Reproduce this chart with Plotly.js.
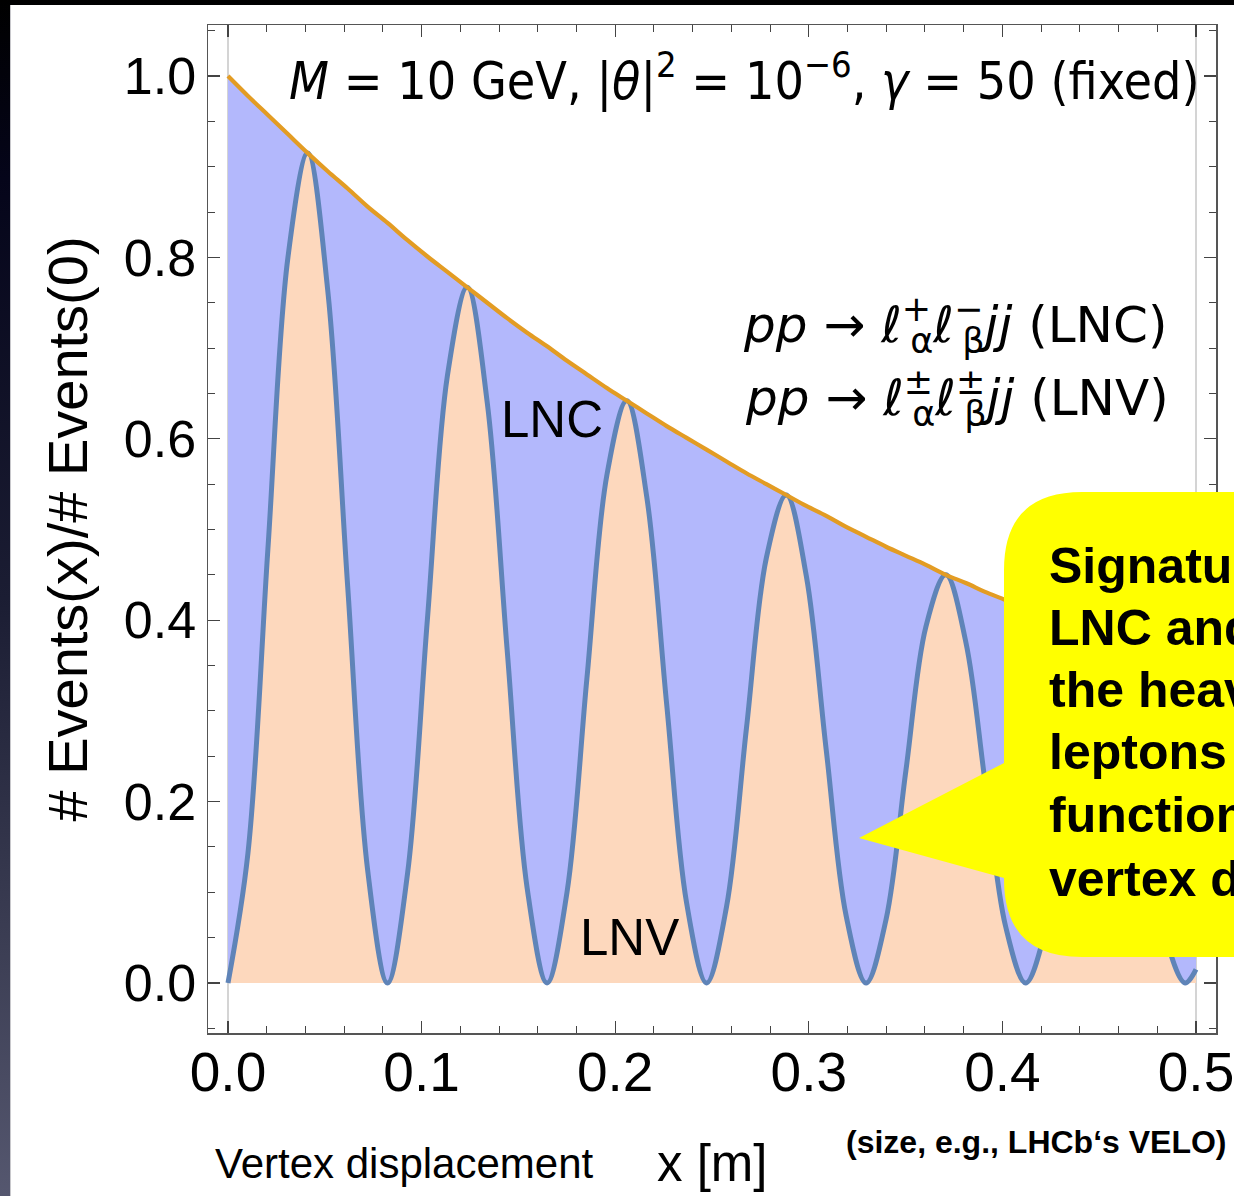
<!DOCTYPE html>
<html>
<head>
<meta charset="utf-8">
<script src="https://cdn.plot.ly/plotly-3.0.1.min.js"></script>
<style>
  html, body { margin: 0; padding: 0; }
  body {
    width: 1234px; height: 1196px; overflow: hidden;
    background: linear-gradient(to bottom, #000000 0%, #05051a 15%, #1b1d33 50%, #3d3f55 80%, #55576f 100%);
    position: relative;
  }
  #chart { position: absolute; left: 10px; top: 5px; width: 1224px; height: 1191px; background: #fff; border-left: 1px solid #c8c8cc; box-sizing: border-box; }
</style>
</head>
<body>
<div id="chart"></div>
<script>
// Vertex displacement x [m]
const displacement = [0, 0.0103, 0.0206, 0.0309, 0.0412, 0.0515, 0.0618, 0.0721, 0.0824, 0.0927,
  0.1030, 0.1133, 0.1236, 0.1339, 0.1442, 0.1545, 0.1648, 0.1751, 0.1854, 0.1957,
  0.2060, 0.2163, 0.2266, 0.2369, 0.2472, 0.2575, 0.2678, 0.2781, 0.2884, 0.2987,
  0.3090, 0.3193, 0.3296, 0.3399, 0.3502, 0.3605, 0.3708, 0.3811, 0.3914, 0.4017,
  0.4120, 0.4223, 0.4326, 0.4429, 0.4532, 0.4635, 0.4738, 0.4841, 0.4944, 0.5];
// Total (LNC + LNV) events ratio: upper (orange) curve
const totalEvents = [1.000, 0.978, 0.957, 0.936, 0.915, 0.895, 0.876, 0.856, 0.838, 0.819,
  0.801, 0.784, 0.767, 0.750, 0.733, 0.717, 0.702, 0.686, 0.671, 0.656,
  0.642, 0.628, 0.614, 0.601, 0.588, 0.575, 0.562, 0.550, 0.538, 0.526,
  0.515, 0.503, 0.492, 0.481, 0.471, 0.461, 0.450, 0.441, 0.431, 0.422,
  0.412, 0.403, 0.394, 0.386, 0.377, 0.369, 0.361, 0.353, 0.345, 0.341];
// LNV events ratio: oscillating (blue) curve
const lnvEvents = [0, 0.143, 0.478, 0.799, 0.915, 0.764, 0.438, 0.125, 0, 0.120,
  0.401, 0.669, 0.767, 0.640, 0.367, 0.105, 0, 0.100, 0.336, 0.560,
  0.642, 0.536, 0.307, 0.088, 0, 0.084, 0.281, 0.469, 0.538, 0.449,
  0.257, 0.074, 0, 0.070, 0.235, 0.393, 0.450, 0.376, 0.216, 0.062,
  0, 0.059, 0.197, 0.329, 0.377, 0.315, 0.181, 0.052, 0, 0.015];
const xTickLabels = ["0.0", "0.1", "0.2", "0.3", "0.4", "0.5"];
const xTickValues = [0, 0.1, 0.2, 0.3, 0.4, 0.5];
const yTickLabels = ["0.0", "0.2", "0.4", "0.6", "0.8", "1.0"];
const yTickValues = [0, 0.2, 0.4, 0.6, 0.8, 1.0];
const gridX = [0, 0.5];
const calloutLines = ["Signatures of", "LNC and LNV", "the heavy", "leptons", "function of", "vertex displacement"];

// pixel (reference image) -> paper helpers; plot frame spans x 207..1215, y 25..1033
const FL = 207, FR = 1215, FT = 25, FB = 1033;
const px = X => (X - FL) / (FR - FL);
const py = Y => (FB - Y) / (FB - FT);

const SANS = "Liberation Sans, Arial, sans-serif";
const MATH = "DejaVu Sans, sans-serif";
const MATHC = "DejaVu Sans Condensed, DejaVu Sans, sans-serif";

const traces = [
  { x: displacement, y: totalEvents, type: "scatter", mode: "lines", fill: "tozeroy",
    fillcolor: "#b3b8fc", line: { width: 0, shape: "spline", color: "#b3b8fc" }, hoverinfo: "skip", showlegend: false },
  { x: displacement, y: lnvEvents, type: "scatter", mode: "lines", fill: "tozeroy",
    fillcolor: "#fdd8bd", line: { width: 5, shape: "spline", color: "#5f84b8" }, showlegend: false },
  { x: displacement, y: totalEvents, type: "scatter", mode: "lines",
    line: { width: 4.2, shape: "spline", color: "#e39c23" }, showlegend: false }
];

const r = 78;
const bx = 1003, btop = 492, bbot = 957, bright = 1300;
const P = (X, Y) => px(X).toFixed(5) + "," + py(Y).toFixed(5);
const calloutPath = "M" + P(bx + r, btop) + " L" + P(bright, btop) + " L" + P(bright, bbot) +
  " L" + P(bx + r, bbot) + " Q" + P(bx, bbot) + " " + P(bx, bbot - r) +
  " L" + P(bx, 878) + " L" + P(858, 838) + " L" + P(bx, 763) +
  " L" + P(bx, btop + r) + " Q" + P(bx, btop) + " " + P(bx + r, btop) + " Z";

const shapes = gridX.map(gx => ({
  type: "line", xref: "x", yref: "paper", x0: gx, x1: gx, y0: 0, y1: 1, layer: "below",
  line: { color: "#d4d4d4", width: 2 }
}));
shapes.push({ type: "path", xref: "paper", yref: "paper", path: calloutPath,
  fillcolor: "#ffff00", line: { width: 0 }, layer: "above" });

const stack = s => "<sup><span style=\"letter-spacing:-0.6em\">" + s + "</span></sup>";
const annotations = [
  { xref: "paper", yref: "paper", x: px(1201), y: py(78), xanchor: "right", yanchor: "middle", showarrow: false,
    text: "<i>M</i> = 10 GeV, |<i>θ</i>|<sup>2</sup> = 10<sup>−6</sup>, <i>γ</i> = 50 (fixed)",
    font: { family: MATHC, size: 51.5, color: "#000" } },
  { xref: "paper", yref: "paper", x: px(1168), y: py(325), xanchor: "right", yanchor: "middle", showarrow: false,
    text: "<i>pp</i> → ℓ" + stack("+") + "<sub>α</sub>ℓ" + stack("−") + "<sub>β</sub><i>jj</i> (LNC)",
    font: { family: MATH, size: 50, color: "#000" } },
  { xref: "paper", yref: "paper", x: px(1170), y: py(398), xanchor: "right", yanchor: "middle", showarrow: false,
    text: "<i>pp</i> → ℓ" + stack("±") + "<sub>α</sub>ℓ" + stack("±") + "<sub>β</sub><i>jj</i> (LNV)",
    font: { family: MATH, size: 50, color: "#000" } },
  { xref: "x", yref: "y", x: 0.1674, y: 0.621, showarrow: false, text: "LNC",
    font: { family: SANS, size: 51, color: "#000" } },
  { xref: "x", yref: "y", x: 0.2076, y: 0.0507, showarrow: false, text: "LNV",
    font: { family: SANS, size: 51, color: "#000" } },
  { xref: "paper", yref: "paper", x: px(212), y: py(1163), xanchor: "left", yanchor: "middle", showarrow: false,
    text: "Vertex displacement", font: { family: SANS, size: 42, color: "#000" } },
  { xref: "paper", yref: "paper", x: px(654), y: py(1163), xanchor: "left", yanchor: "middle", showarrow: false,
    text: "x [m]", font: { family: SANS, size: 51, color: "#000" } },
  { xref: "paper", yref: "paper", x: px(1228), y: py(1142), xanchor: "right", yanchor: "middle", showarrow: false,
    text: "<b>(size, e.g., LHCb‘s VELO)</b>", font: { family: SANS, size: 32, color: "#000" } }
];
const lineCenters = [566, 628, 690, 752, 815, 879];
calloutLines.forEach((t, i) => annotations.push({
  xref: "paper", yref: "paper", x: px(1046), y: py(lineCenters[i]), xanchor: "left", yanchor: "middle",
  showarrow: false, text: "<b>" + t + "</b>", font: { family: SANS, size: 50, color: "#000" }
}));

const axisCommon = {
  showline: true, mirror: "allticks", linecolor: "#555", linewidth: 1.5,
  ticks: "inside", ticklen: 12, tickwidth: 1.2, tickcolor: "#444",
  showgrid: false, zeroline: false, ticklabeloverflow: "allow"
};

const layout = {
  width: 1224, height: 1191,
  margin: { l: FL - 10, r: 1234 - FR, t: FT - 5, b: 1196 - FB },
  paper_bgcolor: "rgba(255,255,255,0)", plot_bgcolor: "rgba(255,255,255,0)",
  showlegend: false,
  xaxis: Object.assign({}, axisCommon, {
    range: [(FL - 227) / 1936, (FR - 227) / 1936],
    tickmode: "array", tickvals: xTickValues, ticktext: xTickLabels,
    tickfont: { family: SANS, size: 55, color: "#000" }, ticklabelstandoff: -10,
    minor: { dtick: 0.02, tick0: 0, ticks: "inside", ticklen: 7, tickwidth: 1, tickcolor: "#444" },
    title: { text: "" }
  }),
  yaxis: Object.assign({}, axisCommon, {
    range: [-(FB - 983) / 907, (983 - FT) / 907],
    tickmode: "array", tickvals: yTickValues, ticktext: yTickLabels,
    tickfont: { family: SANS, size: 52, color: "#000" }, ticklabelstandoff: 0,
    minor: { dtick: 0.05, tick0: 0, ticks: "inside", ticklen: 7, tickwidth: 1, tickcolor: "#444" },
    title: { text: "# Events(x)/# Events(0)", font: { family: SANS, size: 56, color: "#000" }, standoff: 18 }
  }),
  shapes: shapes,
  annotations: annotations
};

Plotly.newPlot("chart", traces, layout, { displayModeBar: false, staticPlot: true });
</script>
</body>
</html>
